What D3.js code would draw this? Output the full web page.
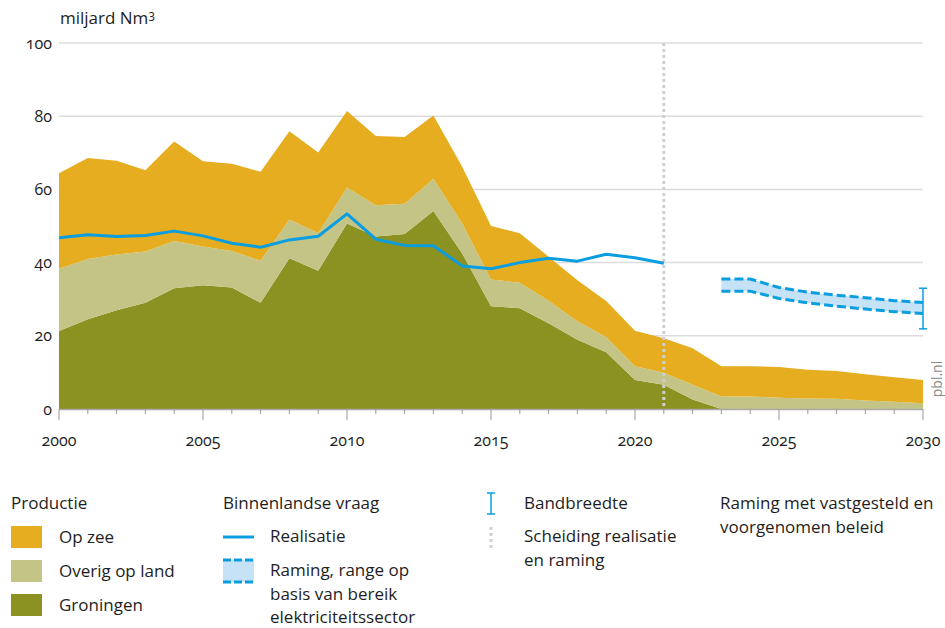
<!DOCTYPE html>
<html><head><meta charset="utf-8">
<script src="https://cdn.jsdelivr.net/npm/d3@7/dist/d3.min.js"></script>
<style>
body{margin:0;background:#fff;}
svg text{font-family:"Open Sans",sans-serif;fill:#1e1e1e;font-feature-settings:"onum" 1;}
</style></head><body>
<svg id="c" width="945" height="628"></svg>
<script>
const years = d3.range(2000, 2031);
const groningen = [21.3,24.5,27.0,29.0,33.0,33.8,33.2,29.0,41.2,37.8,50.7,47.1,47.8,54.1,42.5,28.1,27.5,23.4,18.9,15.5,7.9,6.6,2.6,0,0,0,0,0,0,0,0];
const overigOpLand = [17.0,16.5,15.2,14.0,12.9,10.6,10.0,11.5,10.6,10.2,9.8,8.6,8.3,8.8,8.2,7.3,7.0,6.2,5.1,4.1,3.8,3.3,4.0,3.4,3.4,3.1,2.9,2.8,2.3,2.0,1.6];
const opZee = [26.1,27.6,25.6,22.2,27.2,23.3,23.8,24.3,24.1,22.1,20.9,18.9,18.2,17.3,15.5,14.6,13.5,12.0,11.2,9.9,9.7,9.4,10.0,8.3,8.3,8.4,7.8,7.6,7.2,6.7,6.3];
const realisatieYears = d3.range(2000, 2022);
const realisatie = [46.8,47.6,47.1,47.4,48.6,47.3,45.3,44.2,46.2,47.2,53.3,46.4,44.7,44.6,39.1,38.3,40.0,41.2,40.4,42.3,41.3,39.8];
const ramingYears = d3.range(2023, 2031);
const ramingBoven = [35.5,35.5,33.2,31.9,31.1,30.4,29.6,29.1];
const ramingOnder = [32.2,32.2,30.2,29.0,28.1,27.3,26.6,26.1];
const bandbreedte = {year: 2030, low: 21.9, high: 33.0};
const scheidingJaar = 2021;
const yTicks = [0,20,40,60,80,100];
const xTickLabels = [2000,2005,2010,2015,2020,2025,2030];

const C = {zee:"#e5ad1f", overig:"#c4c487", gron:"#8c9222", blue:"#0a9ee0", band:"#c5e2f7", grid:"#dcdcdc", axis:"#a8a8a8"};

const svg = d3.select("#c");
const x = d3.scaleLinear().domain([2000,2030]).range([59,923]);
const y = d3.scaleLinear().domain([0,100]).range([409,43]);

svg.append("g").selectAll("line").data(yTicks.filter(d=>d>0)).join("line")
  .attr("x1",x(2000)).attr("x2",x(2030)).attr("y1",d=>y(d)).attr("y2",d=>y(d))
  .attr("stroke",C.grid).attr("stroke-width",1.5);

const rows = years.map((yr,i)=>({year:yr, gron:groningen[i], overig:overigOpLand[i], zee:opZee[i]}));
const series = d3.stack().keys(["gron","overig","zee"])(rows);
const area = d3.area().x(d=>x(d.data.year)).y0(d=>y(d[0])).y1(d=>y(d[1]));
svg.append("g").selectAll("path").data(series).join("path")
  .attr("d",area).attr("fill",d=>C[d.key]);

svg.append("g").selectAll("text").data(yTicks).join("text")
  .attr("x",52).attr("y",d=>y(d)).attr("dy","0.35em").attr("text-anchor","end")
  .attr("font-size",16).text(d=>d);

svg.append("line").attr("x1",x(2000)).attr("x2",x(2030)).attr("y1",409.5).attr("y2",409.5)
  .attr("stroke",C.axis).attr("stroke-width",1.5);
svg.append("g").selectAll("line").data(years).join("line")
  .attr("x1",d=>x(d)).attr("x2",d=>x(d)).attr("y1",409).attr("y2",d=>d%5===0?420:414)
  .attr("stroke",C.axis).attr("stroke-width",1.2);
svg.append("g").selectAll("text").data(xTickLabels).join("text")
  .attr("x",d=>x(d)).attr("y",440).attr("dy","0.35em").attr("text-anchor","middle")
  .attr("font-size",16).text(d=>d);

svg.append("line").attr("x1",x(scheidingJaar)).attr("x2",x(scheidingJaar)).attr("y1",43).attr("y2",409)
  .attr("stroke","#cfcfcf").attr("stroke-width",3).attr("stroke-dasharray","3,3");

svg.append("path").datum(realisatie.map((v,i)=>[realisatieYears[i],v]))
  .attr("d",d3.line().x(d=>x(d[0])).y(d=>y(d[1])))
  .attr("fill","none").attr("stroke",C.blue).attr("stroke-width",3).attr("stroke-linejoin","round");

const band = ramingYears.map((yr,i)=>({year:yr,lo:ramingOnder[i],hi:ramingBoven[i]}));
svg.append("path").datum(band)
  .attr("d",d3.area().x(d=>x(d.year)).y0(d=>y(d.lo)).y1(d=>y(d.hi)))
  .attr("fill",C.band);
["lo","hi"].forEach(k=>{
  svg.append("path").datum(band)
    .attr("d",d3.line().x(d=>x(d.year)).y(d=>y(d[k])))
    .attr("fill","none").attr("stroke",C.blue).attr("stroke-width",3).attr("stroke-dasharray","9,4");
});

const bx = x(bandbreedte.year);
const bb = svg.append("g").attr("stroke",C.blue).attr("stroke-width",1.5);
bb.append("line").attr("x1",bx).attr("x2",bx).attr("y1",y(bandbreedte.high)).attr("y2",y(bandbreedte.low));
[bandbreedte.high,bandbreedte.low].forEach(v=>bb.append("line").attr("x1",bx-4).attr("x2",bx+4).attr("y1",y(v)).attr("y2",y(v)));

const ul = svg.append("text").attr("x",60).attr("y",18).attr("dy","0.35em").attr("font-size",17);
ul.append("tspan").text("miljard Nm");
ul.append("tspan").attr("font-size",12).attr("dy","-0.45em").text("3");

svg.append("text").attr("transform","translate(937,379) rotate(-90)").attr("text-anchor","middle")
  .attr("dy","0.35em").attr("font-size",14).style("fill","#8a8a8a").text("pbl.nl");

const L = svg.append("g");
function txt(xp,yp,t){L.append("text").attr("x",xp).attr("y",yp).attr("dy","0.35em").attr("font-size",17).text(t);}
txt(11,503,"Productie");
[["zee","Op zee",537],["overig","Overig op land",571],["gron","Groningen",605]].forEach(([k,t,yy])=>{
  L.append("rect").attr("x",11).attr("y",yy-11).attr("width",31).attr("height",22).attr("fill",C[k]);
  txt(59,yy,t);
});
txt(223,503,"Binnenlandse vraag");
L.append("line").attr("x1",223).attr("x2",254).attr("y1",537).attr("y2",537).attr("stroke",C.blue).attr("stroke-width",3);
txt(270,536,"Realisatie");
L.append("rect").attr("x",223).attr("y",560).attr("width",31).attr("height",22).attr("fill",C.band);
[560,582].forEach(yy=>L.append("line").attr("x1",223).attr("x2",254).attr("y1",yy).attr("y2",yy)
  .attr("stroke",C.blue).attr("stroke-width",3).attr("stroke-dasharray","8,3"));
txt(270,570,"Raming, range op");
txt(270,594,"basis van bereik");
txt(270,617,"elektriciteitssector");
const lb = L.append("g").attr("stroke",C.blue).attr("stroke-width",1.5);
lb.append("line").attr("x1",491).attr("x2",491).attr("y1",493).attr("y2",514);
[493,514].forEach(v=>lb.append("line").attr("x1",487).attr("x2",495).attr("y1",v).attr("y2",v));
txt(524,503,"Bandbreedte");
L.append("line").attr("x1",491).attr("x2",491).attr("y1",527).attr("y2",549)
  .attr("stroke","#cfcfcf").attr("stroke-width",3).attr("stroke-dasharray","3,3");
txt(524,536,"Scheiding realisatie");
txt(524,560,"en raming");
txt(720,503,"Raming met vastgesteld en");
txt(720,527,"voorgenomen beleid");
</script>
</body></html>
